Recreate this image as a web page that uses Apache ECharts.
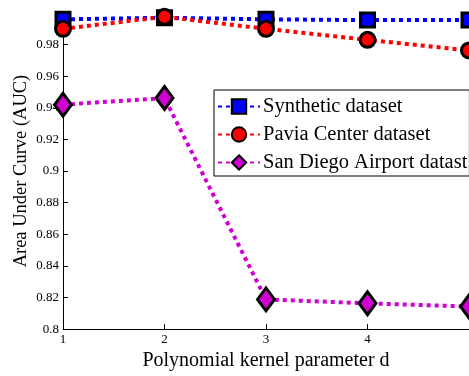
<!DOCTYPE html>
<html>
<head>
<meta charset="utf-8">
<script src="https://cdn.jsdelivr.net/npm/echarts@6/dist/echarts.min.js"></script>
<style>html,body{margin:0;padding:0;background:#fff}#c{width:469px;height:376px}</style>
</head>
<body>
<div id="c"></div>
<script>
var dValues = [1, 2, 3, 4, 5];
var synthetic = [0.996, 0.997, 0.996, 0.9955, 0.9955];
var pavia = [0.990, 0.9976, 0.990, 0.983, 0.9763];
var sanDiego = [0.942, 0.9462, 0.8188, 0.8163, 0.8143];
var seriesNames = ['Synthetic dataset', 'Pavia Center dataset', 'San Diego Airport datast'];

function pairs(vals) { return dValues.map(function (d, i) { return [d, vals[i]]; }); }

var font = 'Liberation Serif';
var chart = echarts.init(document.getElementById('c'));
chart.setOption({
  animation: false,
  grid: { left: 63, top: 13, width: 409, height: 322 },
  legend: {
    left: 214, top: 90, orient: 'vertical',
    backgroundColor: '#fff', borderColor: '#000', borderWidth: 1, borderRadius: 0,
    padding: [6, 2, 3, 3], itemGap: 7, itemWidth: 42, itemHeight: 18,
    textStyle: { fontFamily: font, fontSize: 20.5, lineHeight: 20, color: '#000', padding: [0, 0, 0, -2] },
    data: seriesNames
  },
  xAxis: {
    type: 'value', min: 1, max: 5, interval: 1,
    name: 'Polynomial kernel parameter d', nameLocation: 'middle', nameGap: 17,
    nameTextStyle: { fontFamily: font, fontSize: 20, color: '#000' },
    axisLine: { lineStyle: { color: '#000', width: 1 } },
    axisTick: { inside: true, length: 5, lineStyle: { color: '#000' } },
    axisLabel: { fontFamily: font, fontSize: 13, color: '#000', margin: 4, showMaxLabel: false },
    splitLine: { show: false }
  },
  yAxis: {
    type: 'value', min: 0.8, max: 1.0, interval: 0.02,
    name: 'Area Under Curve (AUC)', nameLocation: 'middle', nameGap: 32, nameMoveOverlap: false,
    nameTextStyle: { fontFamily: font, fontSize: 18.5, color: '#000' },
    axisLine: { show: true, lineStyle: { color: '#000', width: 1 } },
    axisTick: { inside: true, length: 5, lineStyle: { color: '#000' } },
    axisLabel: { fontFamily: font, fontSize: 13, color: '#000', margin: 4, showMaxLabel: false },
    splitLine: { show: false }
  },
  series: [
    {
      name: seriesNames[0], type: 'line', data: pairs(synthetic), clip: false,
      symbol: 'rect', symbolSize: 14,
      itemStyle: { color: '#0000ff', borderColor: '#000', borderWidth: 3 },
      lineStyle: { color: '#0000ff', width: 4, type: [4, 4] }
    },
    {
      name: seriesNames[1], type: 'line', data: pairs(pavia), clip: false,
      symbol: 'circle', symbolSize: 15,
      itemStyle: { color: '#ff0000', borderColor: '#000', borderWidth: 3 },
      lineStyle: { color: '#ff0000', width: 4, type: [4, 4] }
    },
    {
      name: seriesNames[2], type: 'line', data: pairs(sanDiego), clip: false,
      symbol: 'diamond', symbolSize: [17, 23],
      itemStyle: { color: '#d000d0', borderColor: '#000', borderWidth: 3 },
      lineStyle: { color: '#d000d0', width: 4, type: [4, 4] }
    }
  ]
});
</script>
</body>
</html>
